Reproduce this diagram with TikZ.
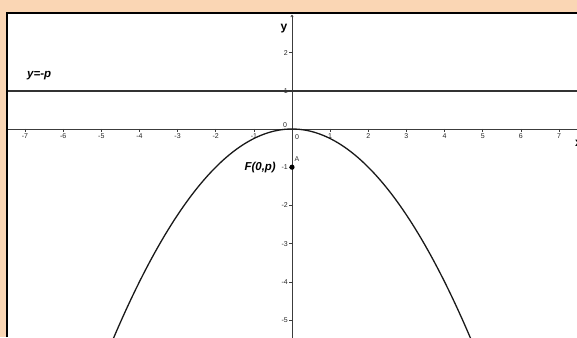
\documentclass[tikz,border=0pt]{standalone}
\usepackage{fontspec}
\setmainfont{Liberation Sans}
\usetikzlibrary{arrows.meta}
\definecolor{peach}{RGB}{250,214,180}
\definecolor{axisgray}{RGB}{60,60,60}
\begin{document}
\begin{tikzpicture}[x=1pt,y=1pt,
  ticklab/.style={font=\fontsize{7}{7}\selectfont, text=black!85, inner sep=0.5pt},
  biglab/.style={font=\fontsize{11.5}{12}\selectfont\bfseries\itshape, inner sep=0pt},
  axisline/.style={draw=axisgray, line width=0.8pt},
  tickmark/.style={draw=axisgray, line width=0.6pt}]
\useasboundingbox (0,0) rectangle (577,337);
\fill[peach] (0,0) rectangle (577,337);
\fill[white] (7,0) rectangle (577,324);
\draw[line width=2.2pt] (7,0) -- (7,324) -- (577,324);
\begin{scope}
\clip (8.1,0) rectangle (577,322.9);
\begin{scope}[shift={(292,208)}, x=38.14pt, y=38.2pt]
  % axes
  \coordinate (xL) at (-7.5,0);
  \coordinate (xR) at (7.6,0);
  \coordinate (yB) at (0,-5.6);
  \coordinate (yT) at (0,2.99);
  \draw[axisline] (xL) -- (xR);
  \draw[axisline, -{To[length=2.5pt,width=3pt]}] (yB) -- (yT);
  % x ticks
  \foreach \i in {-7,-6,-5,-4,-3,-2,-1,1,2,3,4,5,6,7} {
    \draw[tickmark] (\i,0) -- ++(0,-3pt);
    \node[ticklab, anchor=north] (xt\i) at ([yshift=-4pt]\i,0) {\i};
  }
  % y ticks
  \foreach \j in {-5,-4,-3,-2,-1,1,2} {
    \draw[tickmark] (0,\j) -- ++(-3pt,0);
    \node[ticklab, anchor=east] (yt\j) at ([xshift=-3.5pt]0,\j) {\j};
  }
  \node[ticklab] (o1) at ([xshift=-7pt,yshift=4pt]0,0) {0};
  \node[ticklab] (o2) at ([xshift=5pt,yshift=-8pt]0,0) {0};
  % directrix
  \coordinate (dL) at (-7.5,1);
  \coordinate (dR) at (7.6,1);
  \draw[line width=1.5pt, draw=black!80] (dL) -- (dR);
  % parabola
  \draw[line width=1.3pt, black!90, smooth, domain=-5:5, samples=80] plot (\x,{-\x*\x/4});
  % focus
  \fill (0,-1) circle (2.6pt);
  \coordinate (F) at (0,-1);
  \node[font=\fontsize{7}{8}\selectfont, text=black!80, inner sep=0pt] (A) at ([xshift=5pt,yshift=8.5pt]F) {A};
  \node[biglab, anchor=east] (Flab) at ([xshift=-16pt,yshift=0pt]F) {F(0,p)};
  \node[biglab] (dlab) at (-6.63,1.4) {y=-p};
  \node[font=\fontsize{12}{12}\selectfont\bfseries, inner sep=0pt] (ylab) at (-0.21,2.64) {y};
  \node[font=\fontsize{12}{12}\selectfont\bfseries, inner sep=0pt, anchor=west] (xlab) at (7.42,-0.37) {x};
\end{scope}
\end{scope}
\end{tikzpicture}
\end{document}
